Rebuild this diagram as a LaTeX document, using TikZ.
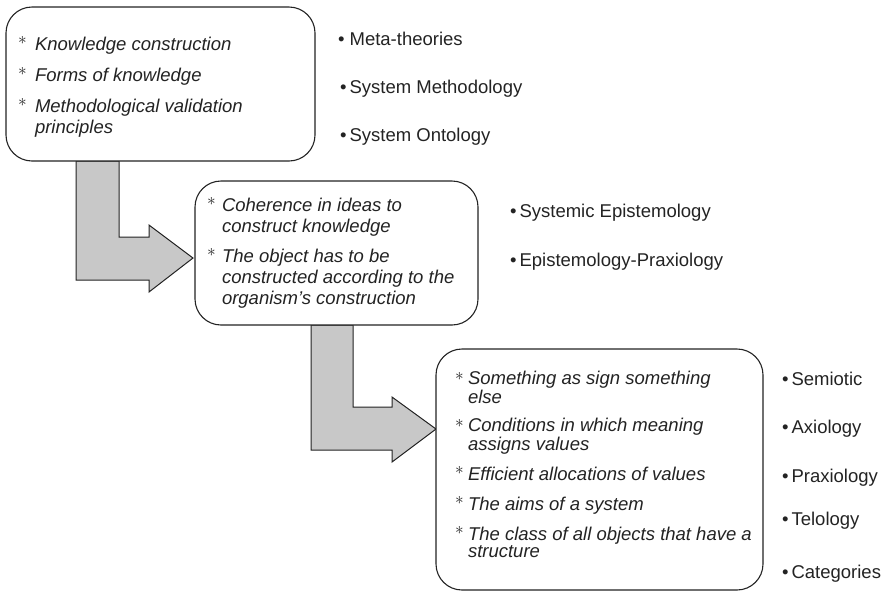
\documentclass[tikz,border=0pt]{standalone}
\usepackage{fontspec}
\setmainfont{Liberation Sans}
\definecolor{arrowgray}{RGB}{200,200,200}
\definecolor{ink}{RGB}{35,35,35}
\newcommand{\myast}{\raisebox{5.5pt}{\fontsize{17}{17}\selectfont$\ast$}}
\newcommand{\mybul}{•}
\begin{document}
\begin{tikzpicture}[x=1pt,y=-1pt,
  every node/.style={inner sep=0pt, outer sep=0pt, text=ink, font=\fontsize{18.5}{21}\selectfont},
  box/.style={draw=ink, line width=1.1pt, rounded corners=26pt, fill=white, anchor=north west},
  bigarrow/.style={draw=ink, line width=1pt, fill=arrowgray, line join=miter},
  star/.style={anchor=base west},
  item/.style={anchor=base west, align=left, font=\fontsize{18.5}{21}\selectfont\itshape},
  item3/.style={anchor=base west, align=left, font=\fontsize{18.5}{17}\selectfont\itshape},
  lab/.style={anchor=base west}
]
\useasboundingbox (0,0) rectangle (888,595);

% arrows (behind boxes)
\draw[bigarrow] (76,161) -- (119,161) -- (119,237) -- (149,237) -- (149,225) -- (193,258)
  -- (149,292) -- (149,280) -- (76,280) -- cycle;
\draw[bigarrow] (311,325) -- (353,325) -- (353,407) -- (392,407) -- (392,397) -- (436,429)
  -- (392,462) -- (392,450) -- (311,450) -- cycle;

% boxes
\node[box, minimum width=309, minimum height=154] (b1) at (6,7) {};
\node[box, minimum width=283, minimum height=144] (b2) at (195,181) {};
\node[box, minimum width=327, minimum height=241] (b3) at (436,349) {};

% box 1 items (base anchor = baseline of last line)
\node[star] (s11) at (18,50) {\myast};
\node[item] (t11) at (35,50) {Knowledge construction};
\node[star] (s12) at (18,81) {\myast};
\node[item] (t12) at (35,81) {Forms of knowledge};
\node[star] (s13) at (18,112) {\myast};
\node[item] (t13) at (35,133) {Methodological validation\\principles};

% box 2 items
\node[star] (s21) at (207,211) {\myast};
\node[item] (t21) at (222,232) {Coherence in ideas to\\construct knowledge};
\node[star] (s22) at (207,262) {\myast};
\node[item] (t22) at (222,304) {The object has to be\\constructed according to the\\organism’s construction};

% box 3 items
\node[star] (s31) at (455,386) {\myast};
\node[item3] (t31) at (468,403) {Something as sign something\\else};
\node[star] (s32) at (455,433) {\myast};
\node[item3] (t32) at (468,450) {Conditions in which meaning\\assigns values};
\node[star] (s33) at (455,480) {\myast};
\node[item3] (t33) at (468,480) {Efficient allocations of values};
\node[star] (s34) at (455,510) {\myast};
\node[item3] (t34) at (468,510) {The aims of a system};
\node[star] (s35) at (455,540) {\myast};
\node[item3] (t35) at (468,557) {The class of all objects that have a\\structure};

% labels
\node[lab] (l11) at (338,45) {\mybul\ Meta-theories};
\node[lab] (l12) at (340,93) {\mybul\,System Methodology};
\node[lab] (l13) at (340,141) {\mybul\,System Ontology};
\node[lab] (l21) at (510,217) {\mybul\,Systemic Epistemology};
\node[lab] (l22) at (510,266) {\mybul\,Epistemology-Praxiology};
\node[lab] (l31) at (782,385) {\mybul\,Semiotic};
\node[lab] (l32) at (782,433) {\mybul\,Axiology};
\node[lab] (l33) at (782,482) {\mybul\,Praxiology};
\node[lab] (l34) at (782,525) {\mybul\,Telology};
\node[lab] (l35) at (782,578) {\mybul\,Categories};
\end{tikzpicture}
\end{document}
